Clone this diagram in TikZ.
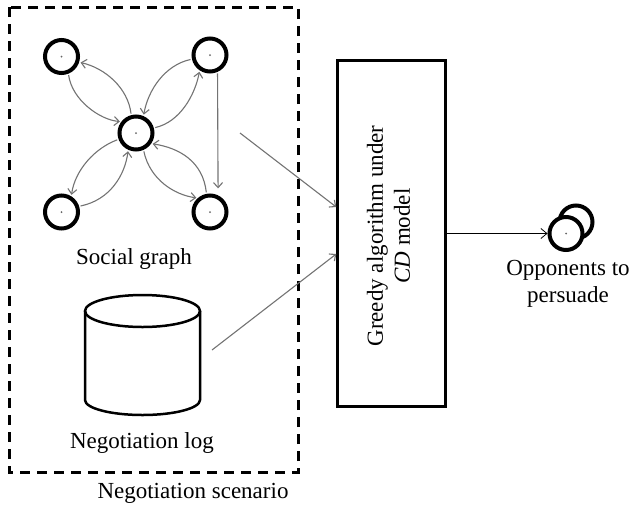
\documentclass[tikz,border=0pt]{standalone}
\usepackage{fontspec}
\setmainfont{Liberation Serif}
\usetikzlibrary{arrows.meta}
\begin{document}
\begin{tikzpicture}[x=1pt,y=-1pt,
  gnode/.style={circle,draw,line width=4pt,minimum size=33pt,inner sep=0pt,fill=white},
  garrow/.style={draw=black!55,line width=1.1pt,shorten >=1.5pt,shorten <=1.5pt,-{Straight Barb[length=5pt,width=9pt]}},
  inarrow/.style={draw=black!55,line width=1.1pt,-{Straight Barb[length=5pt,width=9pt]}},
  lbl/.style={font=\fontsize{23}{27}\selectfont,align=center,inner sep=0pt},
  dashbox/.style={draw,line width=3pt,dash pattern=on 10pt off 7pt}]
\useasboundingbox (0,0) rectangle (632,509);

% dashed scenario box
\draw[dashbox] (9,7) rectangle (298,472);
\node[lbl] (scen) at (193,493) {Negotiation scenario};

% social graph nodes
\node[gnode] (TL) at (61.5,56.5) {};
\node[gnode] (TR) at (210,55) {};
\node[gnode] (C)  at (136,133) {};
\node[gnode] (BL) at (61.5,212) {};
\node[gnode] (BR) at (210,212) {};
\foreach \n in {TL,TR,C,BL,BR}{\fill[black!60] (\n) circle (1pt);}

% curved edges
\draw[garrow] (TL.-68) .. controls (72,100) and (100,120) .. (C.142);
\draw[garrow] (C.105) .. controls (128,88) and (105,68) .. (TL.-18);
\draw[garrow] (TR.193) .. controls (165,65) and (148,90) .. (C.66);
\draw[garrow] (C.16) .. controls (180,122) and (195,95) .. (TR.-124);
\draw[garrow] (C.-160) .. controls (95,148) and (75,170) .. (BL.58);
\draw[garrow] (BL.18) .. controls (110,200) and (125,175) .. (C.-115);
\draw[garrow] (C.-66) .. controls (150,180) and (175,195) .. (BR.131);
\draw[garrow] (BR.101) .. controls (203,162) and (180,148) .. (C.-35);
\draw[garrow,shorten >=7pt] (TR.-66) -- (BR.64);

\node[lbl] (sg) at (134,259) {Social graph};

% negotiation log cylinder
\draw[line width=2.5pt,fill=white] (85,311) -- (85,400) arc (180:0:57.5 and 15) -- (200,311);
\draw[line width=2.5pt] (142.5,311) ellipse (57.5 and 16);
\node[lbl] (log) at (142,443) {Negotiation log};

% algorithm box
\node[draw,line width=2.5pt,minimum width=108pt,minimum height=346pt,inner sep=0pt] (box) at (391.5,233.5) {};
\node[lbl,rotate=90] (boxtext) at (388.5,236) {Greedy algorithm under\\\textit{CD} model};

% inputs
\coordinate (g1) at (240,133);
\coordinate (g2) at (212,350);
\draw[inarrow] (g1) -- ([yshift=26.5pt]box.west);
\draw[inarrow] (g2) -- ([yshift=-20.5pt]box.west);

% opponents
\node[gnode] (opp2) at (576,222) {};
\node[gnode] (opp) at (566,233.5) {};
\fill[black!60] (opp) circle (1pt);
\draw[line width=0.8pt,-{Straight Barb[length=6pt,width=10pt]}] (box.east) -- (opp.west);
\node[lbl] (opptext) at (568,284) {Opponents to\\persuade};
\end{tikzpicture}
\end{document}
